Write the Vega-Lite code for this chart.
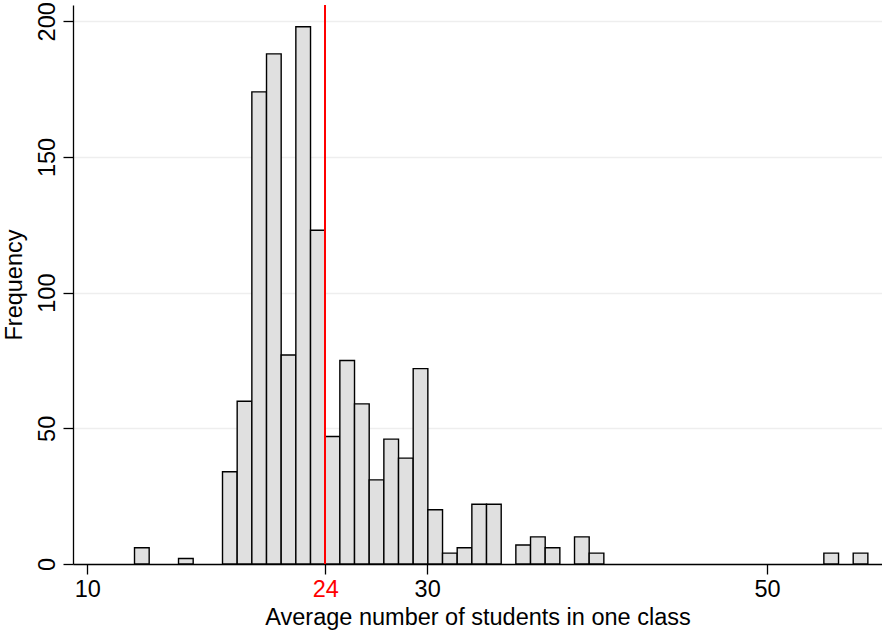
{
  "$schema": "https://vega.github.io/schema/vega-lite/v6.json",
  "width": 809,
  "height": 559,
  "autosize": {"type": "none"},
  "padding": {"left": 73, "top": 5, "right": 0, "bottom": 67},
  "background": "white",
  "config": {"view": {"stroke": null}, "font": "Liberation Sans"},
  "data": {
    "values": [
      {"bin_start": 12.778, "bin_end": 13.641, "count": 6},
      {"bin_start": 15.368, "bin_end": 16.231, "count": 2},
      {"bin_start": 17.957, "bin_end": 18.820, "count": 34},
      {"bin_start": 18.820, "bin_end": 19.684, "count": 60},
      {"bin_start": 19.684, "bin_end": 20.547, "count": 174},
      {"bin_start": 20.547, "bin_end": 21.410, "count": 188},
      {"bin_start": 21.410, "bin_end": 22.273, "count": 77},
      {"bin_start": 22.273, "bin_end": 23.137, "count": 198},
      {"bin_start": 23.137, "bin_end": 24.000, "count": 123},
      {"bin_start": 24.000, "bin_end": 24.863, "count": 47},
      {"bin_start": 24.863, "bin_end": 25.726, "count": 75},
      {"bin_start": 25.726, "bin_end": 26.590, "count": 59},
      {"bin_start": 26.590, "bin_end": 27.453, "count": 31},
      {"bin_start": 27.453, "bin_end": 28.316, "count": 46},
      {"bin_start": 28.316, "bin_end": 29.179, "count": 39},
      {"bin_start": 29.179, "bin_end": 30.042, "count": 72},
      {"bin_start": 30.042, "bin_end": 30.906, "count": 20},
      {"bin_start": 30.906, "bin_end": 31.769, "count": 4},
      {"bin_start": 31.769, "bin_end": 32.632, "count": 6},
      {"bin_start": 32.632, "bin_end": 33.495, "count": 22},
      {"bin_start": 33.495, "bin_end": 34.359, "count": 22},
      {"bin_start": 35.221, "bin_end": 36.085, "count": 7},
      {"bin_start": 36.085, "bin_end": 36.948, "count": 10},
      {"bin_start": 36.948, "bin_end": 37.811, "count": 6},
      {"bin_start": 38.674, "bin_end": 39.537, "count": 10},
      {"bin_start": 39.537, "bin_end": 40.400, "count": 4},
      {"bin_start": 53.348, "bin_end": 54.212, "count": 4},
      {"bin_start": 55.075, "bin_end": 55.938, "count": 4}
    ]
  },
  "layer": [
    {
      "mark": {"type": "bar", "fill": "#e0e0e0", "stroke": "black", "strokeWidth": 1.4},
      "encoding": {
        "x": {
          "field": "bin_start",
          "type": "quantitative",
          "scale": {"domain": [9.158, 56.77], "nice": false, "zero": false},
          "axis": {
            "values": [10, 24, 30, 50],
            "title": "Average number of students in one class",
            "titleFontSize": 23.5,
            "titleFontWeight": "normal",
            "titleColor": "black",
            "titlePadding": 5,
            "labelFontSize": 23.5,
            "labelColor": {"condition": {"test": "datum.value == 24", "value": "red"}, "value": "black"},
            "labelPadding": 3,
            "tickSize": 10,
            "tickColor": "black",
            "tickWidth": 1.3,
            "domainColor": "black",
            "domainWidth": 1.3,
            "grid": false
          }
        },
        "x2": {"field": "bin_end"},
        "y": {
          "field": "count",
          "type": "quantitative",
          "scale": {"domain": [0, 206], "nice": false},
          "axis": {
            "values": [0, 50, 100, 150, 200],
            "title": "Frequency",
            "titleFontSize": 23.5,
            "titleFontWeight": "normal",
            "titleColor": "black",
            "titlePadding": 9,
            "labelFontSize": 23.5,
            "labelColor": "black",
            "labelAngle": -90,
            "labelPadding": 4,
            "tickSize": 10,
            "tickColor": "black",
            "tickWidth": 1.3,
            "domainColor": "black",
            "domainWidth": 1.3,
            "grid": true,
            "gridColor": "#eeeeee",
            "gridWidth": 1.5
          }
        },
        "y2": {"datum": 0}
      }
    },
    {
      "mark": {"type": "rule", "color": "red", "strokeWidth": 1.6},
      "encoding": {"x": {"datum": 24}}
    }
  ]
}
